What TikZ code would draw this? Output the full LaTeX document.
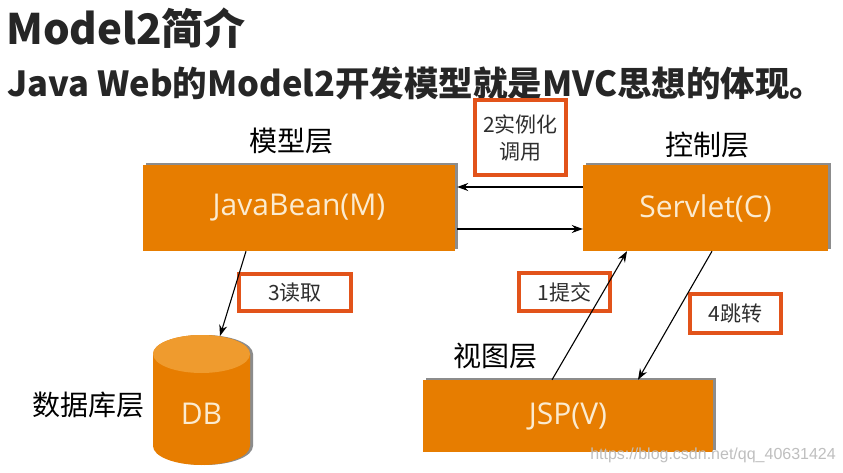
\documentclass[tikz,border=0pt]{standalone}
\usepackage{fontspec}
\setmainfont{Open Sans}
\newfontfamily\cjk{Noto Sans CJK SC}
\newfontfamily\wmfont{Liberation Sans}
\usetikzlibrary{arrows.meta,shadows}
\definecolor{orangefill}{HTML}{E77D00}
\definecolor{orangetop}{HTML}{EF9B2E}
\definecolor{labelred}{HTML}{E2531A}
\definecolor{shadowgray}{HTML}{8C8C8C}
\definecolor{boxtext}{HTML}{FBEBD0}
\definecolor{titlegray}{HTML}{262626}
\definecolor{labeltext}{HTML}{2E2E2E}
\tikzset{
  mvcbox/.style={draw=none, fill=orangefill, inner sep=0pt, text=boxtext,
    font=\fontsize{30}{34}\selectfont,
    drop shadow={shadow xshift=3pt, shadow yshift=2pt, fill=shadowgray, opacity=1}},
  tagbox/.style={draw=labelred, line width=4pt, fill=white, inner sep=0pt,
    text=labeltext, align=center, font=\cjk\fontsize{21}{27}\selectfont},
  layer/.style={font=\cjk\fontsize{28}{32}\selectfont, text=black, inner sep=0pt},
  arr/.style={draw=black, line width=1.1pt, -{Stealth[length=11pt,width=8pt]}}
}
\begin{document}
\begin{tikzpicture}[x=1pt,y=-1pt]
\useasboundingbox (0,0) rectangle (843,473);
\fill[white] (0,0) rectangle (843,473);

% titles
\node[anchor=west, inner sep=0pt, text=titlegray, font=\cjk\bfseries\fontsize{42}{46}\selectfont] (title) at (6,28) {Model2简介};
\node[anchor=west, inner sep=0pt, text=titlegray, font=\cjk\bfseries\fontsize{34.5}{38}\selectfont] (sub) at (7,83) {Java Web的Model2开发模型就是MVC思想的体现。};

% main boxes
\node[mvcbox, minimum width=312pt, minimum height=86pt] (jb) at (299,208) {JavaBean(M)};
\node[mvcbox, minimum width=245pt, minimum height=86pt] (srv) at (705.5,208) {Servlet(C)};
\node[mvcbox, minimum width=290pt, minimum height=72pt] (jsp) at (568,416) {JSP(V)};

% database cylinder
\fill[shadowgray] (156,354) -- (156,446) arc[start angle=180, end angle=360, x radius=48.5pt, y radius=19pt] -- (253,354) arc[start angle=0, end angle=180, x radius=48.5pt, y radius=19pt] -- cycle;
\fill[orangefill] (153,354) -- (153,446) arc[start angle=180, end angle=360, x radius=48.5pt, y radius=19pt] -- (250,354) arc[start angle=0, end angle=180, x radius=48.5pt, y radius=19pt] -- cycle;
\fill[orangetop] (201.5,354) ellipse[x radius=48.5pt, y radius=19pt];
\node[inner sep=0pt, text=boxtext, font=\fontsize{30}{34}\selectfont] (db) at (201.5,414) {DB};
\coordinate (dbtop) at (220,336);

% layer labels
\node[layer] (lm) at (291,141) {模型层};
\node[layer] (lc) at (707,145) {控制层};
\node[layer] (lv) at (495,356) {视图层};
\node[layer] (ld) at (88,405) {数据库层};

% tag boxes
\node[tagbox, minimum width=91pt, minimum height=75pt] (t2) at (520.5,137.5) {2实例化\\调用};
\node[tagbox, minimum width=112pt, minimum height=37pt] (t3) at (295,292.5) {3读取};
\node[tagbox, minimum width=91pt, minimum height=38pt] (t1) at (564.5,292) {1提交};
\node[tagbox, minimum width=91pt, minimum height=39pt] (t4) at (735.5,313.5) {4跳转};

% connectors
\draw[arr] ([yshift=21pt]srv.west) -- ([xshift=2pt,yshift=21pt]jb.east);
\draw[arr] ([yshift=-21pt,xshift=2pt]jb.east) -- ([yshift=-21pt]srv.west);
\draw[arr] ([xshift=-53pt]jb.south) -- (dbtop);
\draw[arr] ([xshift=-16pt]jsp.north) -- ([xshift=-78.5pt]srv.south);
\draw[arr] ([xshift=6.5pt]srv.south) -- ([xshift=70pt]jsp.north);

% watermark
\node[anchor=east, inner sep=0pt, text=black!25, font=\wmfont\fontsize{16}{18}\selectfont] (wm) at (836,455) {https://blog.csdn.net/qq\_40631424};
\end{tikzpicture}
\end{document}
